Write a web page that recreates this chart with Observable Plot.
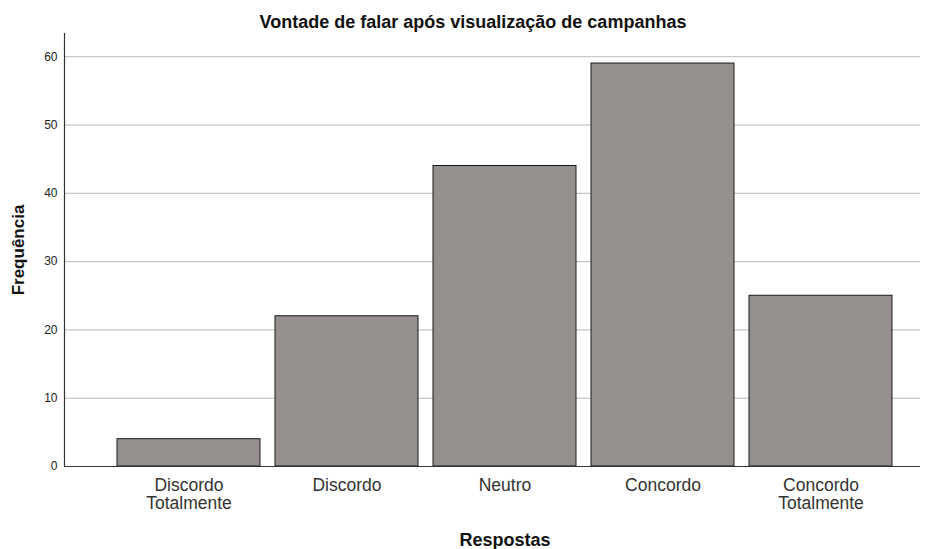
<!DOCTYPE html>
<html>
<head>
<meta charset="utf-8">
<script src="https://cdn.jsdelivr.net/npm/d3@7"></script>
<script src="https://cdn.jsdelivr.net/npm/@observablehq/plot@0.6"></script>
<style>
  body { margin: 0; background: #fff; font-family: "Liberation Sans", Arial, sans-serif; }
  #wrap { position: relative; width: 932px; height: 549px; }
  #title { position: absolute; top: 12px; left: 7px; width: 932px; text-align: center;
           font: bold 18px "Liberation Sans", Arial, sans-serif; color: #111; line-height: 20px; }
  svg { display: block; }
</style>
</head>
<body>
<div id="wrap">
  <div id="title">Vontade de falar após visualização de campanhas</div>
  <div id="chart"></div>
</div>
<script>
const categories = ["Discordo Totalmente", "Discordo", "Neutro", "Concordo", "Concordo Totalmente"];
const tickLabels = ["Discordo\nTotalmente", "Discordo", "Neutro", "Concordo", "Concordo\nTotalmente"];
const values = [4, 22, 44, 59, 25];
const yTicks = [0, 10, 20, 30, 40, 50, 60];

const data = categories.map((c, i) => ({ cat: c, value: values[i] }));

const chart = Plot.plot({
  width: 932,
  height: 549,
  marginTop: 33,
  marginBottom: 83,
  marginLeft: 64,
  marginRight: 12,
  style: { fontFamily: "'Liberation Sans', Arial, sans-serif", background: "#fff", color: "#222" },
  x: { domain: categories, range: [108, 900], paddingInner: 0.098, paddingOuter: 0.049, label: null },
  y: { domain: [0, 63.4], label: null },
  marks: [
    Plot.gridY(yTicks, { stroke: "#b9b9b9", strokeOpacity: 1, strokeWidth: 1 }),
    Plot.barY(data, { x: "cat", y: "value", fill: "#958f8e", stroke: "#1a1a1a", strokeWidth: 1 }),
    Plot.ruleY([0], { stroke: "#333", strokeWidth: 1.2 }),
    Plot.frame({ anchor: "left", stroke: "#333", strokeWidth: 1.2 }),
    Plot.axisY(yTicks, { tickSize: 0, tickPadding: 7, fontSize: 12, fill: "#222",
      label: "Frequência", labelAnchor: "center", labelOffset: 53 }),
    Plot.axisX({ tickSize: 0, tickPadding: 11, fontSize: 17.5, fill: "#333", lineHeight: 1.06,
      tickFormat: (d) => tickLabels[categories.indexOf(d)], label: null }),
    Plot.text(["Respostas"], { x: () => "Neutro", frameAnchor: "bottom", dy: 74,
      fontSize: 18, fontWeight: "bold", fill: "#111", lineAnchor: "middle" })
  ]
});

// style axis label of y (and drop the arrow)
chart.querySelectorAll("g[aria-label='y-axis label'] text").forEach(t => {
  t.textContent = "Frequência";
  t.setAttribute("font-weight", "bold");
  t.setAttribute("font-size", "17");
  t.setAttribute("fill", "#111");
});
document.getElementById("chart").appendChild(chart);
</script>
</body>
</html>
